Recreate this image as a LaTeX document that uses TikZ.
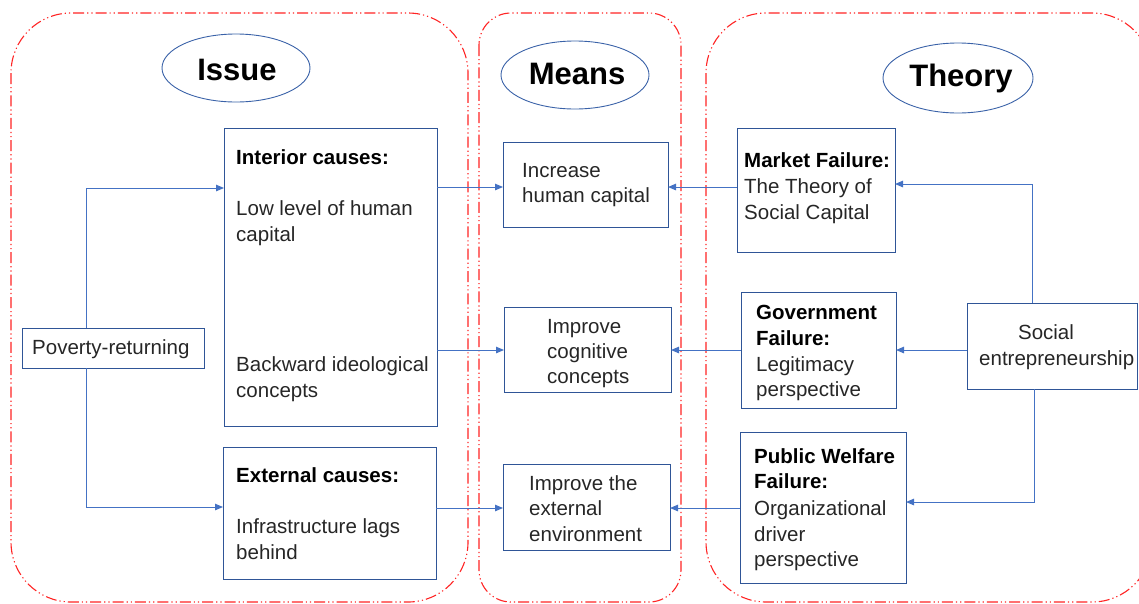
\documentclass[tikz,border=0pt]{standalone}
\usepackage{fontspec}
\setmainfont{Liberation Sans}
\usetikzlibrary{arrows.meta}
\definecolor{boxblue}{HTML}{2F5597}
\definecolor{ellblue}{HTML}{3A62A8}
\definecolor{lineblue}{HTML}{4472C4}
\definecolor{dashred}{HTML}{FF2424}
\definecolor{txtgray}{HTML}{262626}
\begin{document}
\begin{tikzpicture}[x=1pt,y=-1pt,
  container/.style={draw=dashred, line width=1.1pt, dash pattern=on 11pt off 3pt on 1.2pt off 3pt on 1.2pt off 3pt},
  titleell/.style={draw=ellblue, line width=0.9pt},
  box/.style={draw=boxblue, line width=0.95pt, rectangle, inner sep=0pt, outer sep=0pt, anchor=north west},
  conn/.style={draw=lineblue, line width=1pt, -{Triangle[length=8pt,width=6.5pt]}},
  txt/.style={anchor=base west, inner sep=0pt, text=txtgray, font=\fontsize{20.5}{26}\selectfont},
  btxt/.style={anchor=base west, inner sep=0pt, text=black, font=\fontsize{20.5}{26}\selectfont\bfseries},
  ttl/.style={inner sep=0pt, text=black, font=\fontsize{31}{36}\selectfont\bfseries}
]
\useasboundingbox (0,0) rectangle (1139,603);
\clip (0,0) rectangle (1139,603);

% containers
\draw[container, rounded corners=60pt] (11,13) rectangle (468,602);
\draw[container, rounded corners=32pt] (479,13) rectangle (681,602);
\draw[container, rounded corners=60pt] (706,13) rectangle (1152,602);

% title ellipses
\draw[titleell] (236,68) ellipse [x radius=74, y radius=34];
\node[ttl] (tissue) at (237,70) {Issue};
\draw[titleell] (575,75) ellipse [x radius=74, y radius=34];
\node[ttl] (tmeans) at (577,74) {Means};
\draw[titleell] (958,78) ellipse [x radius=75, y radius=35];
\node[ttl] (ttheory) at (961,78) {Theory};

% boxes
\node[box, minimum width=182pt, minimum height=40pt] (pov) at (22,328) {};
\node[box, minimum width=213pt, minimum height=298pt] (interior) at (224,128) {};
\node[box, minimum width=213pt, minimum height=132pt] (external) at (223,447) {};
\node[box, minimum width=165pt, minimum height=85pt] (inc) at (503,142) {};
\node[box, minimum width=167pt, minimum height=85pt] (cog) at (504,307) {};
\node[box, minimum width=167pt, minimum height=86pt] (env) at (503,464) {};
\node[box, minimum width=158pt, minimum height=124pt] (market) at (737,128) {};
\node[box, minimum width=155pt, minimum height=116pt] (gov) at (741,292) {};
\node[box, minimum width=166pt, minimum height=151pt] (pub) at (740,432) {};
\node[box, minimum width=170pt, minimum height=86pt] (soc) at (967,303) {};

% texts
\node[txt] (povt) at (32,354) {Poverty-returning};
\node[btxt] (int1) at (236,164) {Interior causes:};
\node[txt] (int2) at (236,215) {Low level of human};
\node[txt] (int3) at (236,241) {capital};
\node[txt] (int4) at (236,371) {Backward ideological};
\node[txt] (int5) at (236,397) {concepts};
\node[btxt] (ext1) at (236,482) {External causes:};
\node[txt] (ext2) at (236,533) {Infrastructure lags};
\node[txt] (ext3) at (236,559) {behind};

\node[txt] (inc1) at (522,177) {Increase};
\node[txt] (inc2) at (522,202) {human capital};
\node[txt] (cog1) at (547,333) {Improve};
\node[txt] (cog2) at (547,358) {cognitive};
\node[txt] (cog3) at (547,383) {concepts};
\node[txt] (env1) at (529,490) {Improve the};
\node[txt] (env2) at (529,515) {external};
\node[txt] (env3) at (529,541) {environment};

\node[btxt] (mk1) at (744,167) {Market Failure:};
\node[txt] (mk2) at (744,193) {The Theory of};
\node[txt] (mk3) at (744,219) {Social Capital};
\node[btxt] (gv1) at (756,319) {Government};
\node[btxt] (gv2) at (756,345) {Failure:};
\node[txt] (gv3) at (756,371) {Legitimacy};
\node[txt] (gv4) at (756,396) {perspective};
\node[btxt] (pb1) at (754,463) {Public Welfare};
\node[btxt] (pb2) at (754,488) {Failure:};
\node[txt] (pb3) at (754,515) {Organizational};
\node[txt] (pb4) at (754,541) {driver};
\node[txt] (pb5) at (754,566) {perspective};
\node[txt, anchor=base] (sc1) at (1046,339) {Social};
\node[txt] (sc2) at (979,365) {entrepreneurship};

% helper coordinates
\coordinate (pl1) at (86,188);
\coordinate (pl2) at (86,507);
\coordinate (r1) at (0,187);
\coordinate (r2) at (0,350);
\coordinate (r3) at (0,508);
\coordinate (s1) at (1032,184);
\coordinate (s3) at (1034,502);

% connectors
\draw[conn] (pov.north -| pl1) |- (interior.west |- pl1);
\draw[conn] (pov.south -| pl2) |- (external.west |- pl2);
\draw[conn] (interior.east |- r1) -- (inc.west |- r1);
\draw[conn] (interior.east |- r2) -- (cog.west |- r2);
\draw[conn] (external.east |- r3) -- (env.west |- r3);
\draw[conn] (market.west |- r1) -- (inc.east |- r1);
\draw[conn] (gov.west |- r2) -- (cog.east |- r2);
\draw[conn] (pub.west |- r3) -- (env.east |- r3);
\draw[conn] (soc.north -| s1) |- (market.east |- s1);
\draw[conn] (soc.west |- r2) -- (gov.east |- r2);
\draw[conn] (soc.south -| s3) |- (pub.east |- s3);
\end{tikzpicture}
\end{document}
